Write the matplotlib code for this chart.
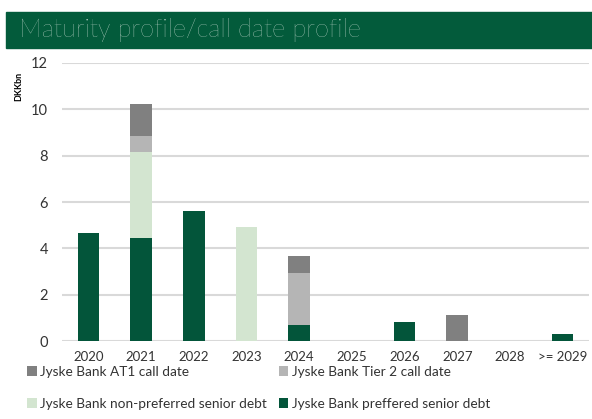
import numpy as np
import matplotlib.pyplot as plt
from matplotlib.patches import Rectangle

plt.rcParams['font.family'] = ['Lato', 'DejaVu Sans']

# Maturity profile (DKKbn)
years = ['2020', '2021', '2022', '2023', '2024', '2025', '2026', '2027', '2028', '>= 2029']
preferred = [4.65, 4.43, 5.63, 0, 0.70, 0, 0.80, 0, 0, 0.30]
non_preferred = [0, 3.71, 0, 4.90, 0, 0, 0, 0, 0, 0]
tier2 = [0, 0.72, 0, 0, 2.25, 0, 0, 0, 0, 0]
at1 = [0, 1.36, 0, 0, 0.70, 0, 0, 1.12, 0, 0]

dark_green = '#03553A'
light_green = '#D3E5D0'
light_grey = '#B5B5B5'
dark_grey = '#808080'

fig = plt.figure(figsize=(5.92, 4.19), dpi=100)

# title banner
fig.patches.append(Rectangle((6/592, 1 - 48/419), 1 - 6/592, 36/419,
                             transform=fig.transFigure, color='#035B3B', zorder=0))
fig.text(19/592, 1 - 30/419, 'Maturity profile/call date profile', color='#E6EFE8',
         fontsize=18.3, fontweight='light', va='center', ha='left')

ax = fig.add_axes([62/592, 1 - 341/419, 527/592, 278/419])
x = np.arange(len(years))
w = 0.41

b1 = np.array(preferred)
b2 = b1 + np.array(non_preferred)
b3 = b2 + np.array(tier2)
h_pref = ax.bar(x, preferred, w, color=dark_green, zorder=3)
h_np = ax.bar(x, non_preferred, w, bottom=b1, color=light_green, zorder=3)
h_t2 = ax.bar(x, tier2, w, bottom=b2, color=light_grey, zorder=3)
h_at1 = ax.bar(x, at1, w, bottom=b3, color=dark_grey, zorder=3)

ax.set_xlim(-0.5, len(years) - 0.5)
ax.set_ylim(0, 12)
ax.set_yticks(range(0, 13, 2))
ax.set_xticks(x)
ax.set_xticklabels(years)
ax.grid(axis='y', color='#D9D9D9', linewidth=1.5, zorder=0)
for s in ax.spines.values():
    s.set_visible(False)
ax.tick_params(axis='both', length=0, colors='#333333')
ax.tick_params(axis='y', labelsize=10.5, pad=10)
ax.tick_params(axis='x', labelsize=9.5, pad=7)
fig.text(19/592, 1 - 86/419, 'DKKbn', rotation=90, fontsize=6.5, fontweight='bold',
         va='center', ha='center')

fig.legend([h_at1, h_np, h_t2, h_pref],
           ['Jyske Bank AT1 call date', 'Jyske Bank non-preferred senior debt',
            'Jyske Bank Tier 2 call date', 'Jyske Bank preffered senior debt'],
           ncol=2, loc='upper left', bbox_to_anchor=(27/592, 1 - 366/419),
           frameon=False, fontsize=9.8, handlelength=0.7, handleheight=0.7,
           handletextpad=0.25, columnspacing=0.9, labelspacing=1.45,
           borderaxespad=0, borderpad=0, labelcolor='#333333')

fig.savefig('out.png', dpi=100)
